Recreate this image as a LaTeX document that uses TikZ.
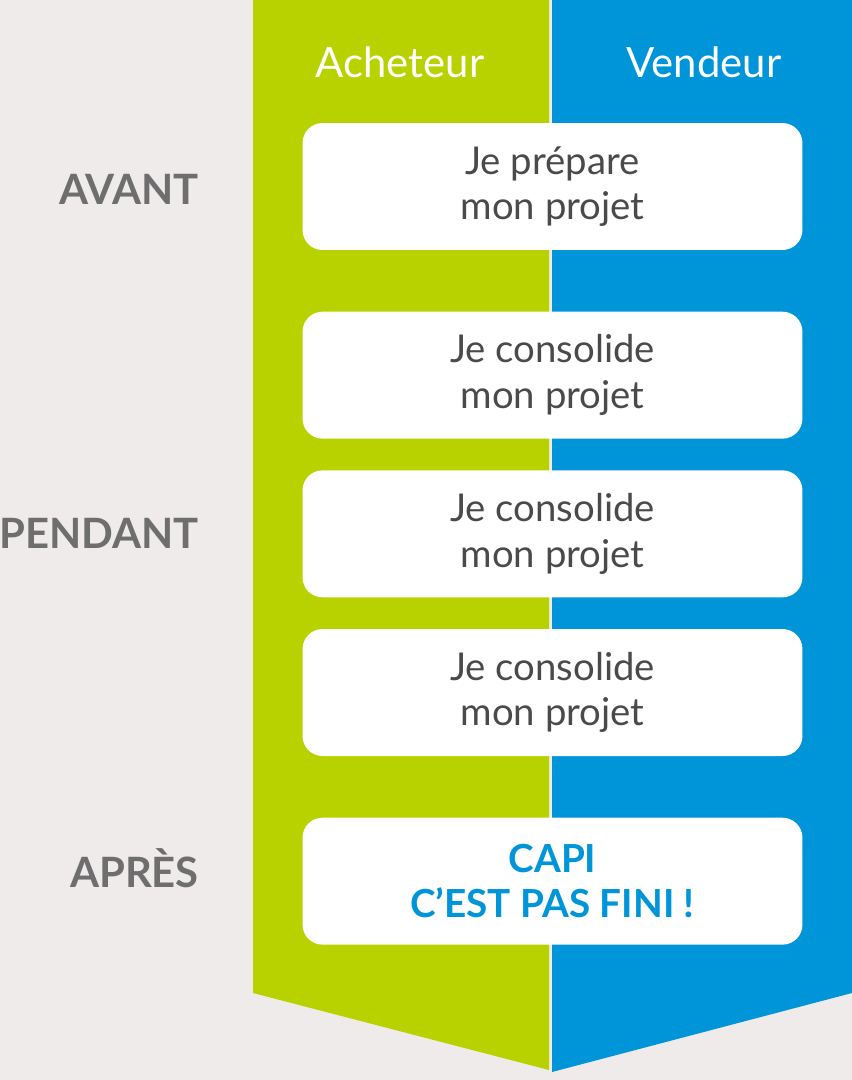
\documentclass[tikz,border=0pt]{standalone}
\usepackage{fontspec}
\setmainfont{Lato}
\usepackage{tikz}
\usetikzlibrary{positioning}
\definecolor{capibg}{HTML}{F0EBEB}
\definecolor{capigreen}{HTML}{B8D200}
\definecolor{capiblue}{HTML}{0094D9}
\definecolor{boxtext}{HTML}{4A4A4A}
\definecolor{phasegray}{HTML}{6E6E6E}

\begin{document}
\begin{tikzpicture}[x=0.02cm, y=-0.02cm,
  phasebox/.style={fill=white, rounded corners=0.4cm, minimum width=10cm, minimum height=2.54cm,
    inner sep=0pt, align=center, text=boxtext, font=\fontsize{21.8}{26}\selectfont},
  phase/.style={text=phasegray, inner sep=0pt, font=\fontsize{23.8}{28}\selectfont\bfseries},
  column/.style={text=white, inner sep=0pt, anchor=base, font=\fontsize{23.8}{28}\selectfont}]
  % background and the two columns
  \fill[capibg] (0,0) rectangle (852,1080);
  \useasboundingbox (0,0) rectangle (852,1080);
  \fill[capigreen] (253,0) -- (549,0) -- (549,1070) -- (253,993) -- cycle;
  \fill[capiblue] (552,0) -- (852,0) -- (852,993) -- (552,1072) -- cycle;
  \node[column] (buyer) at (400,77) {Acheteur};
  \node[column] (seller) at (704,77) {Vendeur};
  % steps
  \node[phasebox] (b1) at (552.5,186.5) {Je prépare\\mon projet};
  \node[phasebox, below=1.22cm of b1] (b2) {Je consolide\\mon projet};
  \node[phasebox, below=0.62cm of b2] (b3) {Je consolide\\mon projet};
  \node[phasebox, below=0.62cm of b3] (b4) {Je consolide\\mon projet};
  \node[phasebox, below=1.22cm of b4, text=capiblue,
        font=\fontsize{22}{25.5}\selectfont\bfseries] (b5) {CAPI\\C’EST PAS FINI !};
  % phases
  \node[phase, left=2.06cm of b1, yshift=-0.06cm] (avant) {AVANT};
  \node[phase, left=2.06cm of b3] (pendant) {PENDANT};
  \node[phase, left=2.06cm of b5, yshift=0.25cm] (apres) {APRÈS};
\end{tikzpicture}
\end{document}
